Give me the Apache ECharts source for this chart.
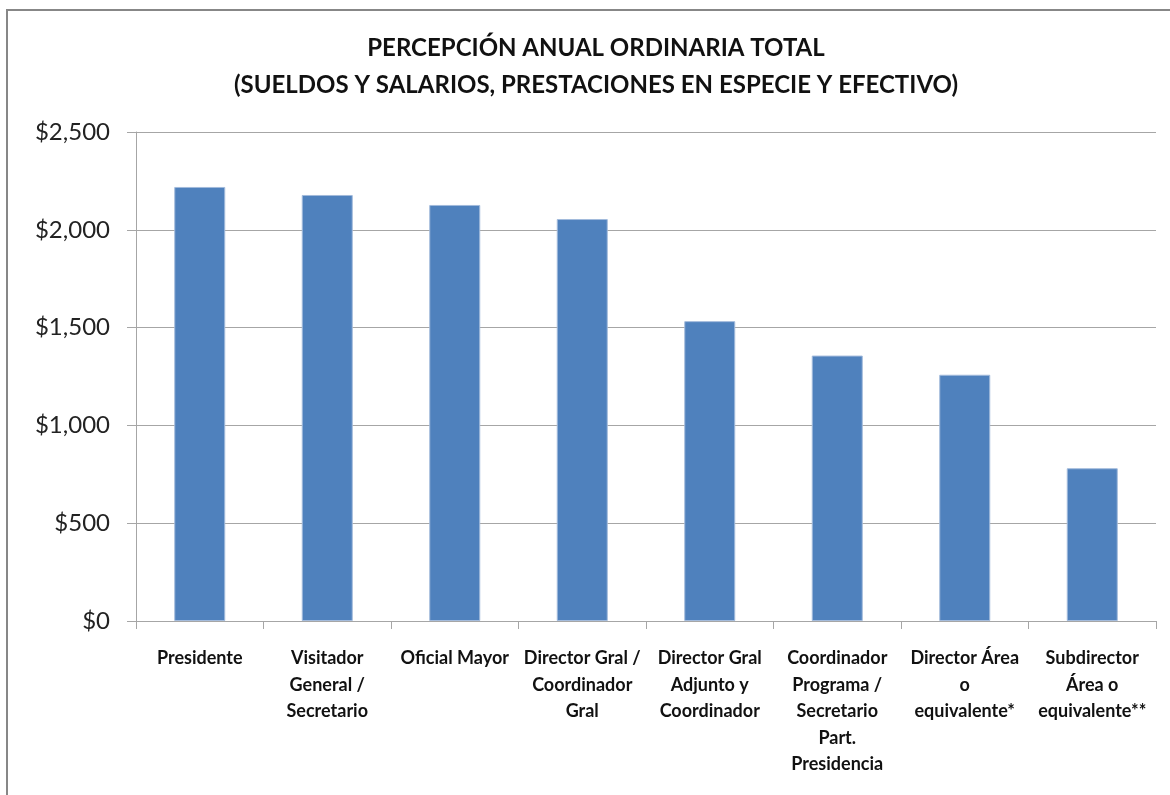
<!DOCTYPE html>
<html>
<head>
<meta charset="utf-8">
<title>Percepción anual ordinaria total</title>
<script src="https://cdn.jsdelivr.net/npm/echarts@6/dist/echarts.min.js"></script>
<style>
  html, body { margin: 0; padding: 0; background: #fff; }
  #chart { width: 1170px; height: 795px; }
</style>
</head>
<body>
<div id="chart"></div>
<script>
var categories = [
  'Presidente',
  'Visitador\nGeneral /\nSecretario',
  'Oficial Mayor',
  'Director Gral /\nCoordinador\nGral',
  'Director Gral\nAdjunto y\nCoordinador',
  'Coordinador\nPrograma /\nSecretario\nPart.\nPresidencia',
  'Director Área\no\nequivalente*',
  'Subdirector\nÁrea o\nequivalente**'
];
var values = [2219, 2178, 2127, 2055, 1533, 1357, 1259, 781];
var yTicks = [0, 500, 1000, 1500, 2000, 2500];
var titleText = 'PERCEPCIÓN ANUAL ORDINARIA TOTAL\n(SUELDOS Y SALARIOS, PRESTACIONES EN ESPECIE Y EFECTIVO)';

var fontName = 'Lato, "Open Sans", sans-serif';
var gray = '#a6a6a6';

var chart = echarts.init(document.getElementById('chart'));

chart.setOption({
  animation: false,
  graphic: [{
    type: 'rect',
    shape: { x: 7, y: 10, width: 1200, height: 820 },
    style: { fill: 'none', stroke: '#878787', lineWidth: 2 },
    silent: true
  }, {
    // title, centred a little right of the page middle like the original
    type: 'text',
    x: 596,
    y: 30,
    silent: true,
    style: {
      text: titleText,
      fontFamily: fontName,
      fontSize: 24,
      fontWeight: 'bold',
      fill: '#111',
      lineHeight: 37,
      align: 'center',
      verticalAlign: 'top'
    }
  }],
  grid: { left: 136, right: 14, top: 132, bottom: 174 },
  xAxis: {
    type: 'category',
    data: categories,
    axisLine: { lineStyle: { color: gray, width: 1 } },
    axisTick: { show: true, length: 8, lineStyle: { color: gray } },
    axisLabel: {
      interval: 0,
      margin: 24,
      fontFamily: fontName,
      fontSize: 18,
      fontWeight: 'bold',
      color: '#111',
      lineHeight: 26.5
    }
  },
  yAxis: {
    type: 'value',
    min: yTicks[0],
    max: yTicks[yTicks.length - 1],
    interval: yTicks[1] - yTicks[0],
    axisLine: { show: true, lineStyle: { color: gray, width: 1 } },
    axisTick: { show: true, length: 9, lineStyle: { color: gray } },
    splitLine: { lineStyle: { color: gray, width: 1 } },
    axisLabel: {
      margin: 26,
      fontFamily: fontName,
      fontSize: 24,
      color: '#222',
      formatter: function (v) {
        return '$' + v.toString().replace(/\B(?=(\d{3})+(?!\d))/g, ',');
      }
    }
  },
  series: [{
    type: 'bar',
    data: values,
    barCategoryGap: '60%',
    itemStyle: { color: '#4f81bd', borderColor: '#a3bbdc', borderWidth: 1 }
  }]
});
</script>
</body>
</html>
